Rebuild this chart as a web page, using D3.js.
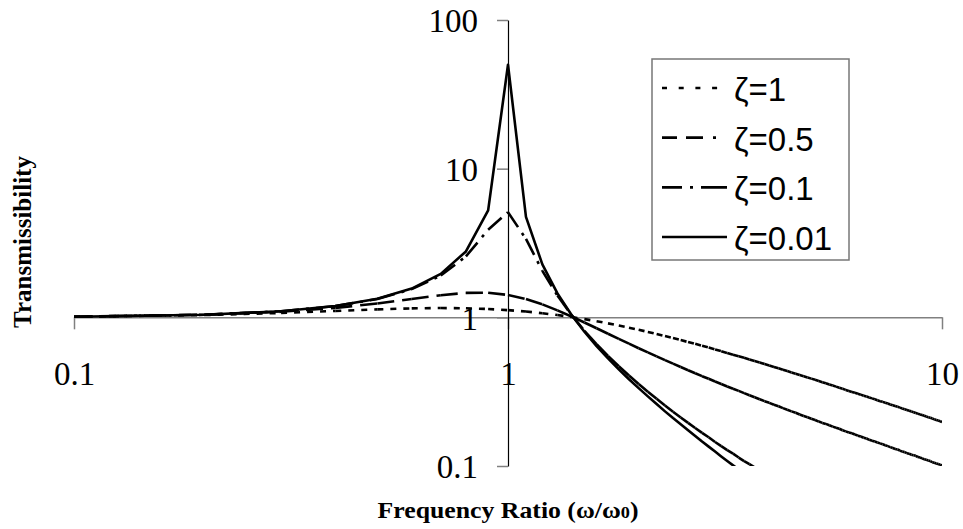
<!DOCTYPE html>
<html>
<head>
<meta charset="utf-8">
<script src="https://cdn.jsdelivr.net/npm/d3@7/dist/d3.min.js"></script>
<style>
  html, body { margin: 0; padding: 0; background: #fff; }
  svg { display: block; }
</style>
</head>
<body>
<svg id="chart" width="963" height="529"></svg>
<script>
// Frequency ratio samples (ω/ω0), step 0.1
const ratio = [
  0.1, 0.2, 0.3, 0.4, 0.5, 0.6, 0.7, 0.8, 0.9, 1.0,
  1.1, 1.2, 1.3, 1.4, 1.5, 1.6, 1.7, 1.8, 1.9, 2.0,
  2.1, 2.2, 2.3, 2.4, 2.5, 2.6, 2.7, 2.8, 2.9, 3.0,
  3.1, 3.2, 3.3, 3.4, 3.5, 3.6, 3.7, 3.8, 3.9, 4.0,
  4.1, 4.2, 4.3, 4.4, 4.5, 4.6, 4.7, 4.8, 4.9, 5.0,
  5.1, 5.2, 5.3, 5.4, 5.5, 5.6, 5.7, 5.8, 5.9, 6.0,
  6.1, 6.2, 6.3, 6.4, 6.5, 6.6, 6.7, 6.8, 6.9, 7.0,
  7.1, 7.2, 7.3, 7.4, 7.5, 7.6, 7.7, 7.8, 7.9, 8.0,
  8.1, 8.2, 8.3, 8.4, 8.5, 8.6, 8.7, 8.8, 8.9, 9.0,
  9.1, 9.2, 9.3, 9.4, 9.5, 9.6, 9.7, 9.8, 9.9, 10.0];

// Transmissibility, ζ = 1
const zeta1 = [
  1.010, 1.036, 1.070, 1.104, 1.131, 1.149, 1.155, 1.151, 1.138, 1.118,
  1.094, 1.066, 1.036, 1.005, 0.973, 0.942, 0.911, 0.881, 0.852, 0.825,
  0.798, 0.773, 0.748, 0.725, 0.703, 0.682, 0.663, 0.644, 0.626, 0.608,
  0.592, 0.576, 0.561, 0.547, 0.534, 0.521, 0.508, 0.497, 0.485, 0.474,
  0.464, 0.454, 0.444, 0.435, 0.426, 0.418, 0.409, 0.402, 0.394, 0.387,
  0.380, 0.373, 0.366, 0.360, 0.353, 0.348, 0.342, 0.336, 0.331, 0.325,
  0.320, 0.315, 0.311, 0.306, 0.302, 0.297, 0.293, 0.289, 0.285, 0.281,
  0.277, 0.273, 0.270, 0.266, 0.263, 0.259, 0.256, 0.253, 0.250, 0.247,
  0.244, 0.241, 0.238, 0.235, 0.233, 0.230, 0.227, 0.225, 0.222, 0.220,
  0.2175, 0.215, 0.213, 0.211, 0.2085, 0.206, 0.204, 0.202, 0.200, 0.198];

// Transmissibility, ζ = 0.5
const zeta05 = [
  1.010, 1.040, 1.090, 1.158, 1.240, 1.329, 1.409, 1.460, 1.463, 1.414,
  1.328, 1.222, 1.114, 1.014, 0.923, 0.844, 0.776, 0.717, 0.665, 0.620,
  0.581, 0.546, 0.515, 0.488, 0.463, 0.441, 0.421, 0.402, 0.386, 0.370,
  0.356, 0.343, 0.331, 0.320, 0.309, 0.299, 0.290, 0.281, 0.273, 0.266,
  0.258, 0.252, 0.245, 0.239, 0.233, 0.228, 0.222, 0.217, 0.213, 0.208,
  0.204, 0.199, 0.195, 0.192, 0.188, 0.184, 0.181, 0.178, 0.174, 0.171,
  0.168, 0.166, 0.163, 0.160, 0.158, 0.155, 0.153, 0.150, 0.148, 0.146,
  0.144, 0.142, 0.140, 0.138, 0.136, 0.134, 0.132, 0.130, 0.129, 0.127,
  0.125, 0.124, 0.122, 0.121, 0.119, 0.118, 0.117, 0.115, 0.114, 0.1125,
  0.111, 0.110, 0.109, 0.108, 0.106, 0.105, 0.104, 0.103, 0.102, 0.101];

// Transmissibility, ζ = 0.1 (until it leaves the chart below 0.1)
const zeta01 = [
  1.010, 1.042, 1.099, 1.189, 1.328, 1.547, 1.909, 2.571, 3.882, 5.099,
  3.367, 2.052, 1.401, 1.039, 0.812, 0.659, 0.550, 0.469, 0.406, 0.356,
  0.316, 0.283, 0.255, 0.232, 0.212, 0.195, 0.180, 0.167, 0.156, 0.145,
  0.136, 0.128, 0.121, 0.114, 0.108, 0.103, 0.0979];

// Transmissibility, ζ = 0.01 (until it leaves the chart below 0.1)
const zeta001 = [
  1.010, 1.042, 1.099, 1.191, 1.333, 1.562, 1.960, 2.775, 5.241, 50.01,
  4.737, 2.270, 1.449, 1.042, 0.800, 0.641, 0.529, 0.447, 0.383, 0.334,
  0.294, 0.261, 0.233, 0.210, 0.191, 0.174, 0.159, 0.146, 0.135, 0.125,
  0.116, 0.108, 0.101, 0.0949];

const seriesNames = ["ζ=1", "ζ=0.5", "ζ=0.1", "ζ=0.01"];
const seriesValues = [zeta1, zeta05, zeta01, zeta001];

const xTickValues = [0.1, 1, 10];
const xTickLabels = ["0.1", "1", "10"];
const yTickValues = [0.1, 1, 10, 100];
const yTickLabels = ["0.1", "1", "10", "100"];

const xTitle = "Frequency Ratio (ω/ω";
const xTitleSub = "0";
const yTitle = "Transmissibility";

// line styles per series (the dash pattern restarts on every segment)
const plotDash = ["6,7", "17,8", "18,7,3,7", null];
const legendDash = ["5,11.7", "15,9,17,10,3,30", "20,8,3,8,40", null];

const svg = d3.select("#chart");

const x = d3.scaleLog().domain([0.1, 10]).range([74, 942]);
const y = d3.scaleLog().domain([0.1, 100]).range([466, 20]);

// clip region for the curves
svg.append("defs").append("clipPath").attr("id", "plotClip")
  .append("rect")
  .attr("x", x(0.1)).attr("y", y(100))
  .attr("width", x(10) - x(0.1)).attr("height", y(0.1) - y(100));

const serif = "'Liberation Serif', 'Times New Roman', serif";
const sans = "'Liberation Sans', Arial, sans-serif";

// x axis through y = 1
const xAxis = d3.axisBottom(x)
  .tickValues(xTickValues)
  .tickFormat((d, i) => xTickLabels[i])
  .tickSize(12)
  .tickSizeOuter(0)
  .tickPadding(32);
const gx = svg.append("g")
  .attr("transform", `translate(0,${y(1)})`)
  .call(xAxis);
gx.select(".domain").attr("stroke", "#808080").attr("stroke-width", 1.5);
gx.selectAll(".tick line").attr("stroke", "#808080").attr("stroke-width", 1.5);
gx.selectAll(".tick text")
  .attr("fill", "#000")
  .style("font-family", serif)
  .style("font-size", "33px");

// y axis through x = 1
const yAxis = d3.axisLeft(y)
  .tickValues(yTickValues)
  .tickFormat((d, i) => yTickLabels[i])
  .tickSize(11)
  .tickSizeOuter(0)
  .tickPadding(19);
const gy = svg.append("g")
  .attr("transform", `translate(${x(1)},0)`)
  .call(yAxis);
gy.select(".domain").attr("stroke", "#000").attr("stroke-width", 1.2);
gy.selectAll(".tick line").attr("stroke", "#808080").attr("stroke-width", 1.5);
gy.selectAll(".tick text")
  .attr("fill", "#000")
  .attr("dy", "0.36em")
  .style("font-family", serif)
  .style("font-size", "33px");

// curves
const line = d3.line()
  .x(d => x(d[0]))
  .y(d => y(d[1]));

const curves = svg.append("g").attr("clip-path", "url(#plotClip)");
seriesValues.forEach((vals, i) => {
  const pts = vals.map((v, k) => [ratio[k], v]);
  if (!plotDash[i]) {
    curves.append("path")
      .datum(pts)
      .attr("d", line)
      .attr("fill", "none")
      .attr("stroke", "#000")
      .attr("stroke-width", 2.6)
      .attr("stroke-linejoin", "round");
  } else {
    const segs = d3.pairs(pts);
    curves.append("g")
      .selectAll("line")
      .data(segs)
      .join("line")
      .attr("x1", d => x(d[0][0]))
      .attr("y1", d => y(d[0][1]))
      .attr("x2", d => x(d[1][0]))
      .attr("y2", d => y(d[1][1]))
      .attr("stroke", "#000")
      .attr("stroke-width", 2.6)
      .attr("stroke-dasharray", plotDash[i]);
  }
});

// axis titles
const xt = svg.append("text")
  .attr("x", x(1))
  .attr("y", 518)
  .attr("text-anchor", "middle")
  .attr("textLength", 261)
  .attr("lengthAdjust", "spacingAndGlyphs")
  .style("font-family", serif)
  .style("font-weight", "bold")
  .style("font-size", "24px");
xt.append("tspan").text(xTitle);
xt.append("tspan").style("font-size", "17px").text(xTitleSub);
xt.append("tspan").text(")");

svg.append("text")
  .attr("transform", "translate(31,242) rotate(-90)")
  .attr("text-anchor", "middle")
  .style("font-family", serif)
  .style("font-weight", "bold")
  .style("font-size", "25px")
  .text(yTitle);

// legend
const legend = svg.append("g");
legend.append("rect")
  .attr("x", 652).attr("y", 59)
  .attr("width", 197).attr("height", 201)
  .attr("fill", "#fff")
  .attr("stroke", "#777")
  .attr("stroke-width", 1.5);

const rowY = d3.scaleLinear().domain([0, 3]).range([88, 237]);
seriesNames.forEach((name, i) => {
  const yy = rowY(i);
  legend.append("line")
    .attr("x1", 662).attr("x2", 727)
    .attr("y1", yy).attr("y2", yy)
    .attr("stroke", "#000")
    .attr("stroke-width", 2.6)
    .attr("stroke-dasharray", legendDash[i]);
  legend.append("text")
    .attr("x", 734)
    .attr("y", yy + 13)
    .style("font-family", sans)
    .style("font-size", "33px")
    .attr("fill", "#000")
    .text(name);
});
</script>
</body>
</html>
